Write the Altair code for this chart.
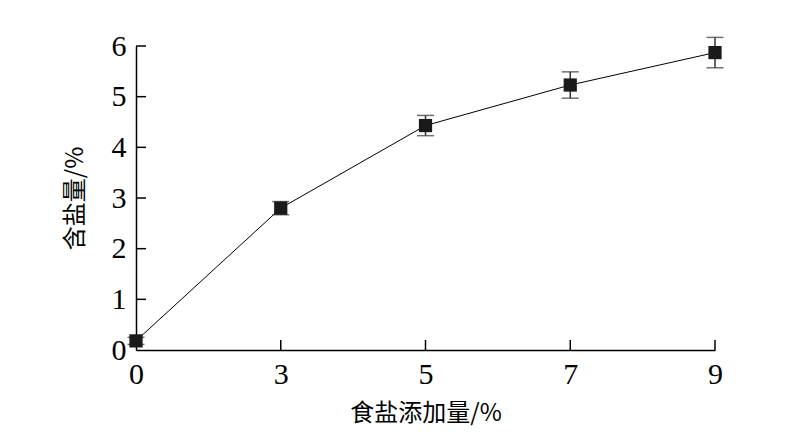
import altair as alt
import pandas as pd

# Data
salt_added = ["0", "3", "5", "7", "9"]
salt_content = [0.18, 2.80, 4.43, 5.23, 5.87]
salt_err = [0.07, 0.13, 0.20, 0.26, 0.30]
y_tick_values = [1, 2, 3, 4, 5, 6]
x_tick_values = ["3", "5", "7", "9"]

df = pd.DataFrame({"x": salt_added, "y": salt_content, "err": salt_err})
df["lo"] = df["y"] - df["err"]
df["hi"] = df["y"] + df["err"]

yt = pd.DataFrame({"y": y_tick_values})
xt = pd.DataFrame({"x": x_tick_values})

W, H = 579, 304
XT = "食盐添加量/%"
YT = "含盐量/%"

xscale = alt.Scale(type="point", padding=0, domain=salt_added)
yscale = alt.Scale(domain=[0, 6], nice=False, zero=False)

xaxis = alt.Axis(labelAngle=0, labelPadding=9, titlePadding=12)
yaxis = alt.Axis(values=[0, 1, 2, 3, 4, 5, 6], labelPadding=10, titlePadding=24)

X = alt.X("x:O", scale=xscale, sort=salt_added, title=XT, axis=xaxis)
Y = alt.Y("y:Q", scale=yscale, title=YT, axis=yaxis)

base = alt.Chart(df)

line = base.mark_line(color="black", strokeWidth=1).encode(x=X, y=Y)
bars = base.mark_rule(color="#333333", strokeWidth=1.5).encode(
    x=X, y=alt.Y("lo:Q", scale=yscale, title=YT, axis=yaxis), y2="hi:Q")
cap_lo = base.mark_tick(color="#333333", thickness=1.5, size=17, orient="horizontal").encode(
    x=X, y=alt.Y("lo:Q", scale=yscale, title=YT, axis=yaxis))
cap_hi = base.mark_tick(color="#333333", thickness=1.5, size=17, orient="horizontal").encode(
    x=X, y=alt.Y("hi:Q", scale=yscale, title=YT, axis=yaxis))
pts = base.mark_square(color="#1a1a1a", size=175, opacity=1).encode(x=X, y=Y)

ytick = alt.Chart(yt).mark_rule(color="black", strokeWidth=1.5).encode(
    y=Y, x=alt.value(0), x2=alt.value(10))
xtick = alt.Chart(xt).mark_rule(color="black", strokeWidth=1.5).encode(
    x=X, y=alt.value(H), y2=alt.value(H - 10))

chart = alt.layer(line, bars, cap_lo, cap_hi, pts, ytick, xtick).properties(
    width=W, height=H,
    background="white",
    autosize=alt.AutoSizeParams(type="none"),
    padding={"left": 128, "top": 38, "right": 60, "bottom": 90},
).configure_view(
    strokeWidth=0, stroke="transparent"
).configure_axis(
    ticks=False, grid=False,
    labelFont="Liberation Serif", labelFontSize=30, labelColor="black",
    titleFont="Noto Sans CJK SC", titleFontSize=24, titleFontWeight="normal", titleColor="black",
    domainColor="black", domainWidth=1.5,
)

chart.save("out.html", embed_options={"renderer": "svg", "actions": False})
